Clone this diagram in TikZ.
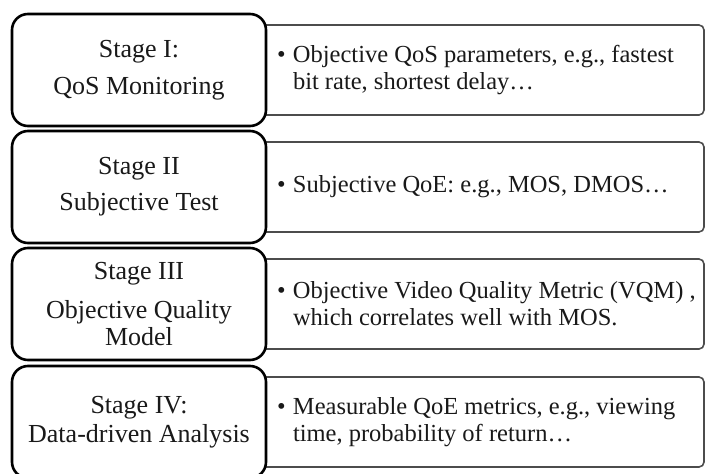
\documentclass[tikz,border=0pt]{standalone}
\usepackage{fontspec}
\setmainfont{Liberation Serif}
\usetikzlibrary{positioning,backgrounds}

\begin{document}
\begin{tikzpicture}[
        x=1pt, y=1pt,
        node distance=5pt,
        stage/.style={draw, line width=2.6pt, rounded corners=16pt, fill=white,
          minimum width=254pt, minimum height=112pt, align=center,
          inner sep=0pt, outer sep=0pt, text=black!90,
          font=\fontsize{26}{27}\selectfont},
        desc/.style={draw=black!70, line width=1.6pt, rounded corners=5pt,
          minimum width=444pt, minimum height=90pt, text width=442pt,
          align=flush left, inner xsep=1pt, inner ysep=0pt, outer sep=0pt,
          text=black!90, font=\fontsize{24.5}{27}\selectfont}
    ]
      \useasboundingbox (0,0) rectangle (705,-474);
      \clip (0,0) rectangle (705,-474);

      \node[stage] (s1) at (139,-70) {Stage I:\\[10pt] QoS Monitoring};
      \node[stage, below=of s1] (s2) {Stage II\\[9pt] Subjective Test};
      \node[stage, below=of s2] (s3) {Stage III\\[12pt] Objective Quality\\ Model};
      \node[stage, below=6pt of s3] (s4) {Stage IV:\\[2pt] Data-driven Analysis};

      % description boxes sit behind the stage boxes
      \begin{pgfonlayer}{background}
      \node[desc, right=-6pt of s1] (d1) {\hspace*{16pt}\makebox[16pt][l]{•}Objective QoS parameters, e.g., fastest\\
        \hspace*{32pt}bit rate, shortest delay…};
      \node[desc, right=-6pt of s2] (d2) {\hspace*{16pt}\makebox[16pt][l]{•}Subjective QoE: e.g., MOS, DMOS…};
      \node[desc, right=-6pt of s3] (d3) {\hspace*{16pt}\makebox[16pt][l]{•}Objective Video Quality Metric (VQM) ,\\
        \hspace*{32pt}which correlates well with MOS.};
      \node[desc, right=-6pt of s4] (d4) {\hspace*{16pt}\makebox[16pt][l]{•}Measurable QoE metrics, e.g., viewing\\
        \hspace*{32pt}time, probability of return…};
      \end{pgfonlayer}
    \end{tikzpicture}
\end{document}
